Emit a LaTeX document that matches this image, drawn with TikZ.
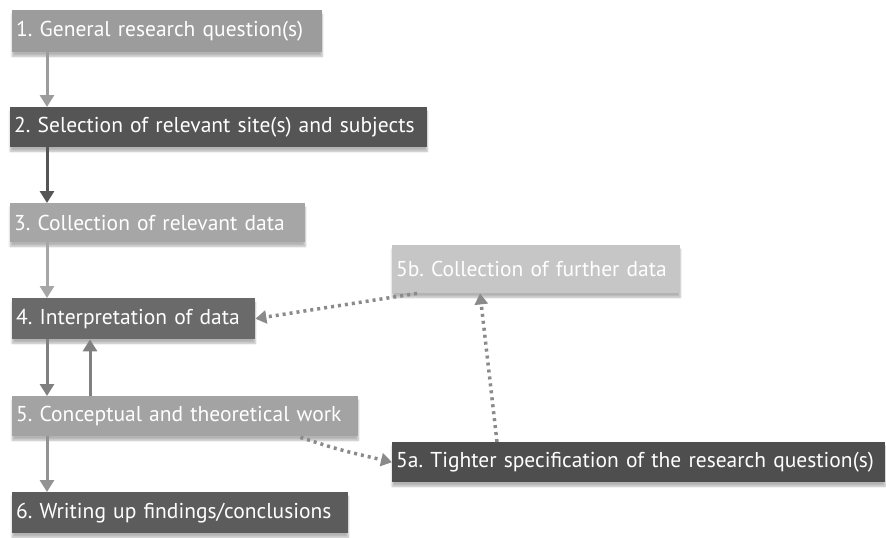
\documentclass[tikz,border=0pt]{standalone}
\usepackage{fontspec}
\setmainfont{PT Sans}
\frenchspacing
\usetikzlibrary{arrows.meta,shadows.blur}
\definecolor{cA}{HTML}{9C9C9C}
\definecolor{cB}{HTML}{555555}
\definecolor{cC}{HTML}{A6A6A6}
\definecolor{cD}{HTML}{6A6A6A}
\definecolor{cE}{HTML}{A3A3A3}
\definecolor{cF}{HTML}{5C5C5C}
\definecolor{cG}{HTML}{C6C6C6}
\definecolor{cH}{HTML}{4E4E4E}
\definecolor{dotc}{HTML}{8A8A8A}
\newcommand{\oneline}[1]{\mbox{#1}}
\begin{document}
\begin{tikzpicture}[x=1pt,y=-1pt,
  bx/.style n args={3}{rectangle, fill=#3, anchor=north west, inner xsep=4pt, inner ysep=0pt,
     minimum width=#1, minimum height=#2, text width=#1-8pt, align=left,
     text=white, font=\fontsize{21.5}{24}\selectfont,
     blur shadow={shadow xshift=0pt, shadow yshift=-4pt, shadow blur steps=6, shadow opacity=30}},
  flow/.style={line width=3pt, -{Triangle[width=14pt,length=12pt]}},
  dotarr/.style={line width=3.5pt, dotc, dash pattern=on 3pt off 4pt,
     -{Triangle[width=13pt,length=11pt,sep=0pt]}}]
\useasboundingbox (0,0) rectangle (886,538);
\node[bx={310pt}{42pt}{cA}] (b1) at (12,10) {\oneline{1. General research question(s)}};
\node[bx={417pt}{40pt}{cB}] (b2) at (10,107) {\oneline{2. Selection of relevant site(s) and subjects}};
\node[bx={295pt}{39pt}{cC}] (b3) at (10,203) {\oneline{3. Collection of relevant data}};
\node[bx={243pt}{41pt}{cD}] (b4) at (12,298) {\oneline{4. Interpretation of data}};
\node[bx={346pt}{40pt}{cE}] (b5) at (12,396) {\oneline{5. Conceptual and theoretical work}};
\node[bx={336pt}{41pt}{cF}] (b6) at (12,492) {\oneline{6. Writing up findings/conclusions}};
\node[bx={288pt}{48pt}{cG}] (b5b) at (392,245) {\oneline{5b. Collection of further data}};
\node[bx={493pt}{40pt}{cH}] (b5a) at (392,442) {\oneline{5a. Tighter specification of the research question(s)}};
% main flow
\draw[flow, cA] (b1.south west -| 47,0) -- (b2.north west -| 47,0);
\draw[flow, cB] (b2.south west -| 47,0) -- (b3.north west -| 47,0);
\draw[flow, cC] (b3.south west -| 47,0) -- (b4.north west -| 47,0);
\draw[flow, cD!85!white] (b4.south west -| 47,0) -- (b5.north west -| 47,0);
\draw[flow, cD!85!white] (b5.north west -| 90,0) -- (b4.south west -| 90,0);
\draw[flow, cE!90!black] (b5.south west -| 47,0) -- (b6.north west -| 47,0);
% dotted
\draw[dotarr] ([xshift=25pt]b5b.south west) -- (b4.east);
\draw[dotarr] ([xshift=-58pt,yshift=-1pt]b5.south east) .. controls (340,450) .. (b5a.west);
\draw[dotarr] ([xshift=105pt]b5a.north west) -- ([xshift=88pt]b5b.south west);
\end{tikzpicture}
\end{document}
